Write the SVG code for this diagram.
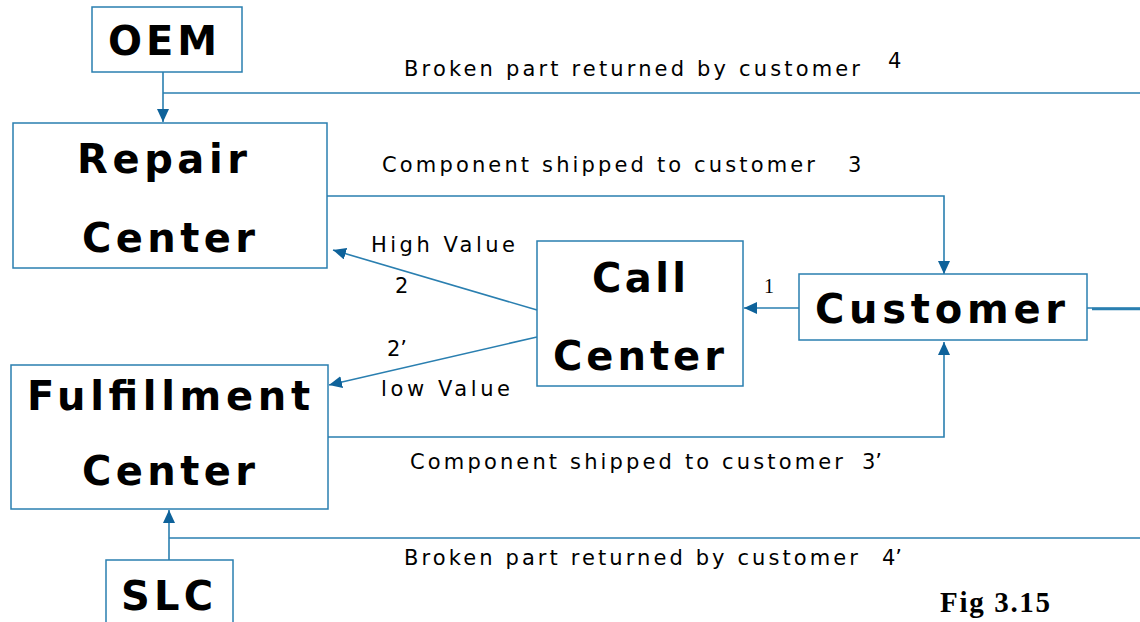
<svg xmlns="http://www.w3.org/2000/svg" width="1140" height="622" viewBox="0 0 1140 622">
<defs>
<marker id="ah" markerUnits="userSpaceOnUse" markerWidth="14" markerHeight="12" refX="13" refY="6" orient="auto">
<path d="M0,0 L13,6 L0,12 Z" fill="#0e629a"/>
</marker>
<style>
.box{fill:#fff;stroke:#2a7fb0;stroke-width:1.5}
.ln{fill:none;stroke:#2a7fb0;stroke-width:1.6}
.b{font-family:"DejaVu Sans",Verdana,sans-serif;font-weight:bold;font-size:40px;fill:#000}
.t{font-family:"DejaVu Sans",Verdana,sans-serif;font-size:21px;fill:#000}
.s{font-family:"Liberation Serif","Times New Roman",serif;font-size:20px;fill:#000}
.fig{font-family:"Liberation Serif","Times New Roman",serif;font-size:29px;font-weight:bold;fill:#000}
</style>
</defs>
<rect width="1140" height="622" fill="#fff"/>
<g id="connectors">
<path class="ln" d="M163,72 V122" marker-end="url(#ah)"/>
<path class="ln" d="M163,93 H1140"/>
<path class="ln" d="M327,196 H944 V274" marker-end="url(#ah)"/>
<path class="ln" d="M537,310 L333,250" marker-end="url(#ah)"/>
<path class="ln" d="M537,337 L329,385" marker-end="url(#ah)"/>
<path class="ln" d="M799,308 H744" marker-end="url(#ah)"/>
<path class="ln" d="M1087,308 H1140"/>
<path class="ln" d="M1092,309 H1140" style="stroke-width:2.5"/>
<path class="ln" d="M328,437 H944 V342" marker-end="url(#ah)"/>
<path class="ln" d="M169,538 H1140"/>
<path class="ln" d="M169,560 V510" marker-end="url(#ah)"/>
</g>
<g id="oem">
<rect class="box" x="92" y="7" width="150" height="65"/>
<text class="b" x="108" y="55" textLength="109" lengthAdjust="spacing">OEM</text>
</g>
<g id="repair-center">
<rect class="box" x="13" y="123" width="314" height="145"/>
<text class="b" x="77" y="173" textLength="170" lengthAdjust="spacing">Repair</text>
<text class="b" x="82" y="252" textLength="173" lengthAdjust="spacing">Center</text>
</g>
<g id="call-center">
<rect class="box" x="537" y="241" width="206" height="145"/>
<text class="b" x="592" y="292" textLength="94" lengthAdjust="spacing">Call</text>
<text class="b" x="553" y="370" textLength="171" lengthAdjust="spacing">Center</text>
</g>
<g id="customer">
<rect class="box" x="799" y="274" width="288" height="66"/>
<text class="b" x="815" y="323" textLength="250" lengthAdjust="spacing">Customer</text>
</g>
<g id="fulfillment-center">
<rect class="box" x="11" y="365" width="317" height="144"/>
<text class="b" x="27" y="410" textLength="283" lengthAdjust="spacing">Fulfillment</text>
<text class="b" x="82" y="485" textLength="173" lengthAdjust="spacing">Center</text>
</g>
<g id="slc">
<rect class="box" x="106" y="560" width="127" height="70"/>
<text class="b" x="121" y="610" textLength="92" lengthAdjust="spacing">SLC</text>
</g>
<g id="labels">
<text class="t" x="404" y="76" textLength="456" lengthAdjust="spacing">Broken part returned by customer</text>
<text class="t" x="888" y="68">4</text>
<text class="t" x="382" y="172" textLength="433" lengthAdjust="spacing">Component shipped to customer</text>
<text class="t" x="848" y="172">3</text>
<text class="t" x="371" y="252" textLength="144" lengthAdjust="spacing">High Value</text>
<text class="t" x="395" y="293">2</text>
<text class="t" x="387" y="356">2’</text>
<text class="t" x="381" y="396" textLength="129" lengthAdjust="spacing">low Value</text>
<text class="t" x="410" y="469" textLength="433" lengthAdjust="spacing">Component shipped to customer</text>
<text class="t" x="862" y="469">3’</text>
<text class="t" x="404" y="565" textLength="454" lengthAdjust="spacing">Broken part returned by customer</text>
<text class="t" x="882" y="565">4’</text>
<text class="s" x="764" y="293">1</text>
<text class="fig" x="940" y="612" textLength="110" lengthAdjust="spacing">Fig 3.15</text>
</g>
</svg>
